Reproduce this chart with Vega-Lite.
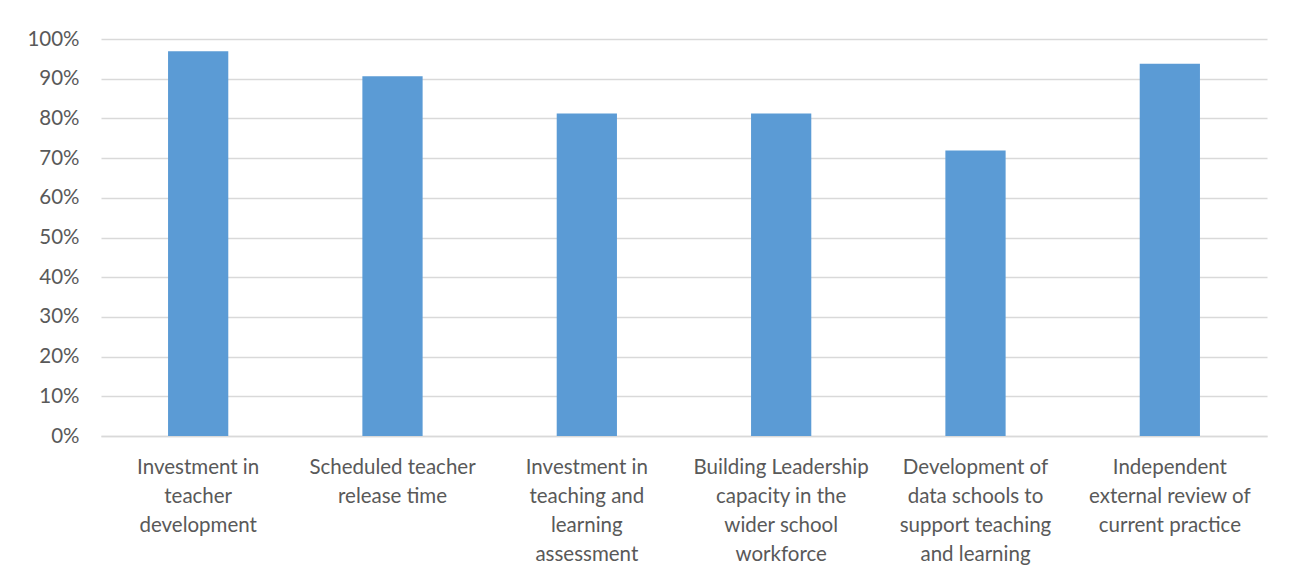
{
  "$schema": "https://vega.github.io/schema/vega-lite/v6.json",
  "width": 1166,
  "height": 397,
  "autosize": {"type": "none"},
  "padding": {"left": 101, "top": 39, "right": 36, "bottom": 147},
  "background": "white",
  "config": {
    "view": {"stroke": null},
    "font": "Lato"
  },
  "data": {
    "values": [
      {"category": "Investment in|teacher|development", "value": 0.969},
      {"category": "Scheduled teacher|release time", "value": 0.906},
      {"category": "Investment in|teaching and|learning|assessment", "value": 0.8125},
      {"category": "Building Leadership|capacity in the|wider school|workforce", "value": 0.8125},
      {"category": "Development of|data schools to|support teaching|and learning", "value": 0.719},
      {"category": "Independent|external review of|current practice", "value": 0.9375}
    ]
  },
  "mark": {"type": "bar", "color": "#5B9BD5"},
  "encoding": {
    "x": {
      "field": "category",
      "type": "nominal",
      "sort": null,
      "title": null,
      "scale": {"paddingInner": 0.69, "paddingOuter": 0.345},
      "axis": {
        "labelAngle": 0,
        "labelExpr": "split(datum.label, '|')",
        "labelFontSize": 20.5,
        "labelColor": "#595959",
        "labelLineHeight": 29,
        "labelPadding": 31,
        "labelBaseline": "middle",
        "labelLimit": 300,
        "ticks": false,
        "domainColor": "#D9D9D9",
        "domainWidth": 1.5
      }
    },
    "y": {
      "field": "value",
      "type": "quantitative",
      "title": null,
      "scale": {"domain": [0, 1]},
      "axis": {
        "format": ".0%",
        "values": [0, 0.1, 0.2, 0.3, 0.4, 0.5, 0.6, 0.7, 0.8, 0.9, 1],
        "labelFontSize": 20.5,
        "labelColor": "#595959",
        "labelPadding": 22,
        "ticks": false,
        "domain": false,
        "gridColor": "#D9D9D9",
        "gridWidth": 1.5
      }
    }
  }
}
